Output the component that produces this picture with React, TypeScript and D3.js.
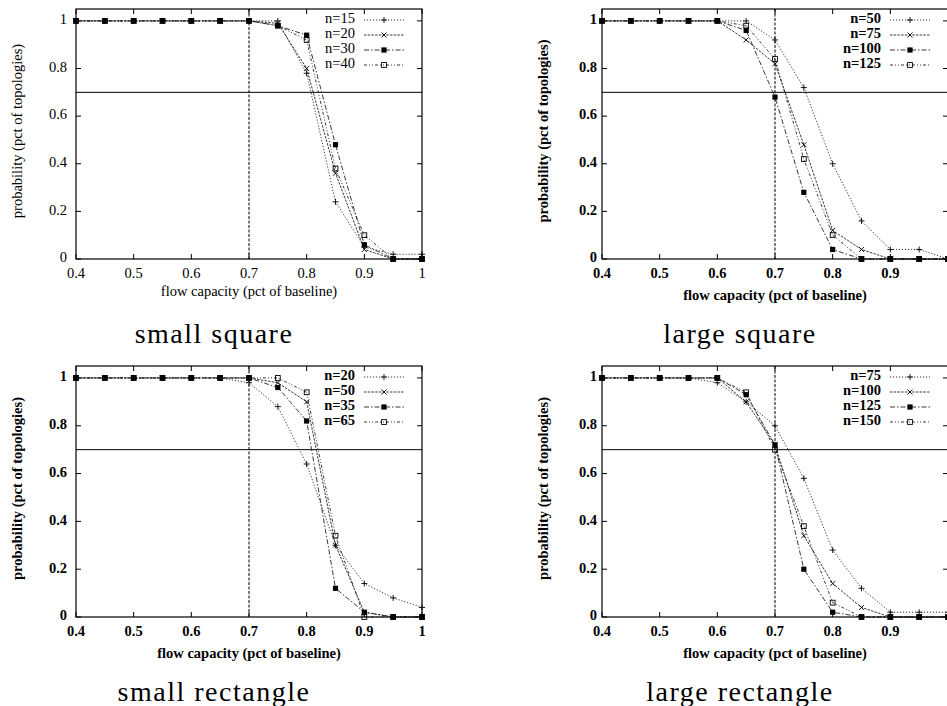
import React from 'react';
import * as d3 from 'd3';

// ---- data ----
const flowCapacity = [0.4, 0.45, 0.5, 0.55, 0.6, 0.65, 0.7, 0.75, 0.8, 0.85, 0.9, 0.95, 1.0];
const xTickValues = [0.4, 0.5, 0.6, 0.7, 0.8, 0.9, 1.0];
const yTickValues = [0, 0.2, 0.4, 0.6, 0.8, 1.0];
const panelTitles = ['small square', 'large square', 'small rectangle', 'large rectangle'];
const xAxisTitle = 'flow capacity (pct of baseline)';
const yAxisTitle = 'probability (pct of topologies)';
const thresholdProbability = 0.7;
const thresholdCapacity = 0.7;

const smallSquareLabels = ['n=15', 'n=20', 'n=30', 'n=40'];
const smallSquareN15 = [1, 1, 1, 1, 1, 1, 1, 1.0, 0.78, 0.24, 0.05, 0.02, 0.02];
const smallSquareN20 = [1, 1, 1, 1, 1, 1, 1, 0.99, 0.8, 0.36, 0.04, 0, 0];
const smallSquareN30 = [1, 1, 1, 1, 1, 1, 1, 0.98, 0.94, 0.48, 0.06, 0, 0];
const smallSquareN40 = [1, 1, 1, 1, 1, 1, 1, 0.98, 0.92, 0.38, 0.1, 0, 0];

const largeSquareLabels = ['n=50', 'n=75', 'n=100', 'n=125'];
const largeSquareN50 = [1, 1, 1, 1, 1, 1.0, 0.92, 0.72, 0.4, 0.16, 0.04, 0.04, 0];
const largeSquareN75 = [1, 1, 1, 1, 1, 0.92, 0.82, 0.48, 0.12, 0.04, 0, 0, 0];
const largeSquareN100 = [1, 1, 1, 1, 1, 0.96, 0.68, 0.28, 0.04, 0, 0, 0, 0];
const largeSquareN125 = [1, 1, 1, 1, 1, 0.98, 0.84, 0.42, 0.1, 0, 0, 0, 0];

const smallRectLabels = ['n=20', 'n=50', 'n=35', 'n=65'];
const smallRectN20 = [1, 1, 1, 1, 1, 1, 0.98, 0.88, 0.64, 0.3, 0.14, 0.08, 0.04];
const smallRectN50 = [1, 1, 1, 1, 1, 1, 1, 0.98, 0.9, 0.3, 0.02, 0, 0];
const smallRectN35 = [1, 1, 1, 1, 1, 1, 1, 0.96, 0.82, 0.12, 0.02, 0, 0];
const smallRectN65 = [1, 1, 1, 1, 1, 1, 1, 1.0, 0.94, 0.34, 0, 0, 0];

const largeRectLabels = ['n=75', 'n=100', 'n=125', 'n=150'];
const largeRectN75 = [1, 1, 1, 1, 0.98, 0.9, 0.8, 0.58, 0.28, 0.12, 0.02, 0.02, 0.02];
const largeRectN100 = [1, 1, 1, 1, 1, 0.9, 0.72, 0.34, 0.14, 0.04, 0, 0, 0];
const largeRectN125 = [1, 1, 1, 1, 1, 0.93, 0.72, 0.2, 0.02, 0, 0, 0, 0];
const largeRectN150 = [1, 1, 1, 1, 1, 0.94, 0.7, 0.38, 0.06, 0, 0, 0, 0];

// ---- layout / style ----
const W = 947;
const H = 706;
const FONT = '"Liberation Serif", "Times New Roman", serif';
const DASHES = ['1.2,1.8', '2.5,1.2', '5,2,1.5,2', '3,2,1,2,1,2'];
const MARKERS = ['plus', 'cross', 'fsquare', 'osquare'];
const LINE_COLOR = '#222';

type PanelDef = {
  left: number; top: number; right: number; bottom: number; bold: boolean;
  title: string; labels: string[]; series: number[][];
  yTickGap: number; xLabelDy: number; yLabelX: number;
};

const panels: PanelDef[] = [
  { left: 76, top: 9, right: 422, bottom: 259, bold: false, title: panelTitles[0], labels: smallSquareLabels,
    series: [smallSquareN15, smallSquareN20, smallSquareN30, smallSquareN40], yTickGap: 9, xLabelDy: 34, yLabelX: 19 },
  { left: 602, top: 9, right: 948, bottom: 259, bold: true, title: panelTitles[1], labels: largeSquareLabels,
    series: [largeSquareN50, largeSquareN75, largeSquareN100, largeSquareN125], yTickGap: 5, xLabelDy: 38, yLabelX: 545 },
  { left: 76, top: 366, right: 422, bottom: 617, bold: true, title: panelTitles[2], labels: smallRectLabels,
    series: [smallRectN20, smallRectN50, smallRectN35, smallRectN65], yTickGap: 9, xLabelDy: 38, yLabelX: 19 },
  { left: 602, top: 366, right: 948, bottom: 617, bold: true, title: panelTitles[3], labels: largeRectLabels,
    series: [largeRectN75, largeRectN100, largeRectN125, largeRectN150], yTickGap: 5, xLabelDy: 38, yLabelX: 545 },
];

const fmt = (v: number) => String(+v.toFixed(1));

function Marker({ kind, x, y }: { kind: string; x: number; y: number }) {
  const s = 3;
  if (kind === 'plus') {
    return <path d={`M${x - s},${y}H${x + s}M${x},${y - s}V${y + s}`} stroke="#000" strokeWidth={0.9} fill="none" />;
  }
  if (kind === 'cross') {
    const c = 2.5;
    return <path d={`M${x - c},${y - c}L${x + c},${y + c}M${x - c},${y + c}L${x + c},${y - c}`} stroke="#000" strokeWidth={0.9} fill="none" />;
  }
  if (kind === 'fsquare') {
    return <rect x={x - 2.6} y={y - 2.6} width={5.2} height={5.2} fill="#000" />;
  }
  return <rect x={x - 2.4} y={y - 2.4} width={4.8} height={4.8} fill="none" stroke="#000" strokeWidth={0.9} />;
}

function Panel({ p }: { p: PanelDef }) {
  const x = d3.scaleLinear().domain([0.4, 1.0]).range([p.left, p.right]);
  const y = d3.scaleLinear().domain([0, 1.05]).range([p.bottom, p.top]);
  const line = d3.line<number>().x((_, i) => x(flowCapacity[i])).y((d) => y(d));
  const fw = p.bold ? 'bold' : 'normal';
  const tickLen = 5;
  const cx = (p.left + p.right) / 2;
  const cy = (p.top + p.bottom) / 2;
  return (
    <g fontFamily={FONT} fontWeight={fw} fill="#000">
      {/* reference lines */}
      <line x1={p.left} x2={p.right} y1={y(thresholdProbability)} y2={y(thresholdProbability)} stroke="#000" strokeWidth={1} />
      <line x1={x(thresholdCapacity)} x2={x(thresholdCapacity)} y1={p.top} y2={p.bottom} stroke="#000" strokeWidth={1} strokeDasharray="3,1.5" />
      {/* ticks */}
      {xTickValues.map((v) => (
        <g key={'xt' + v}>
          <line x1={x(v)} x2={x(v)} y1={p.bottom} y2={p.bottom - tickLen} stroke="#000" />
          <line x1={x(v)} x2={x(v)} y1={p.top} y2={p.top + tickLen} stroke="#000" />
          {x(v) + 4 < W && (
            <text x={x(v)} y={p.bottom + 16} fontSize={14.5} textAnchor="middle" dominantBaseline="middle">{fmt(v)}</text>
          )}
        </g>
      ))}
      {yTickValues.map((v) => (
        <g key={'yt' + v}>
          <line x1={p.left} x2={p.left + tickLen} y1={y(v)} y2={y(v)} stroke="#000" />
          <line x1={p.right} x2={p.right - tickLen} y1={y(v)} y2={y(v)} stroke="#000" />
          <text x={p.left - p.yTickGap} y={y(v)} fontSize={14.5} textAnchor="end" dominantBaseline="middle">{fmt(v)}</text>
        </g>
      ))}
      {/* series */}
      {p.series.map((s, si) => (
        <g key={'s' + si}>
          <path d={line(s) || ''} fill="none" stroke={LINE_COLOR} strokeWidth={0.9} strokeDasharray={DASHES[si]} />
          {s.map((v, i) => (
            <Marker key={i} kind={MARKERS[si]} x={x(flowCapacity[i])} y={y(v)} />
          ))}
        </g>
      ))}
      {/* legend */}
      {p.labels.map((lab, i) => {
        const ly = p.top + 11 + i * 15;
        return (
          <g key={'lg' + i}>
            <text x={p.right - 67} y={ly} fontSize={14.5} textAnchor="end" dominantBaseline="middle">{lab}</text>
            <line x1={p.right - 58} x2={p.right - 18} y1={ly} y2={ly} stroke={LINE_COLOR} strokeWidth={0.9} strokeDasharray={DASHES[i]} />
            <Marker kind={MARKERS[i]} x={p.right - 38} y={ly} />
          </g>
        );
      })}
      {/* border */}
      <rect x={p.left} y={p.top} width={p.right - p.left} height={p.bottom - p.top} fill="none" stroke="#000" strokeWidth={1.2} />
      {/* axis titles */}
      <text x={cx} y={p.bottom + p.xLabelDy} fontSize={14.5} textAnchor="middle" dominantBaseline="middle">{xAxisTitle}</text>
      <text transform={`translate(${p.yLabelX},${cy - 3}) rotate(-90)`} fontSize={14.5} textAnchor="middle" dominantBaseline="middle">{yAxisTitle}</text>
      {/* caption */}
      <text x={p.left + 138} y={p.bottom + 84} fontSize={28} letterSpacing={1.5} fontWeight="normal" textAnchor="middle">{p.title}</text>
    </g>
  );
}

export default function App() {
  return (
    <svg width={W} height={H} viewBox={`0 0 ${W} ${H}`} style={{ position: 'absolute', left: 0, top: 0, background: '#fff' }}>
      <rect x={0} y={0} width={W} height={H} fill="#fff" />
      {panels.map((p, i) => <Panel key={i} p={p} />)}
    </svg>
  );
}
